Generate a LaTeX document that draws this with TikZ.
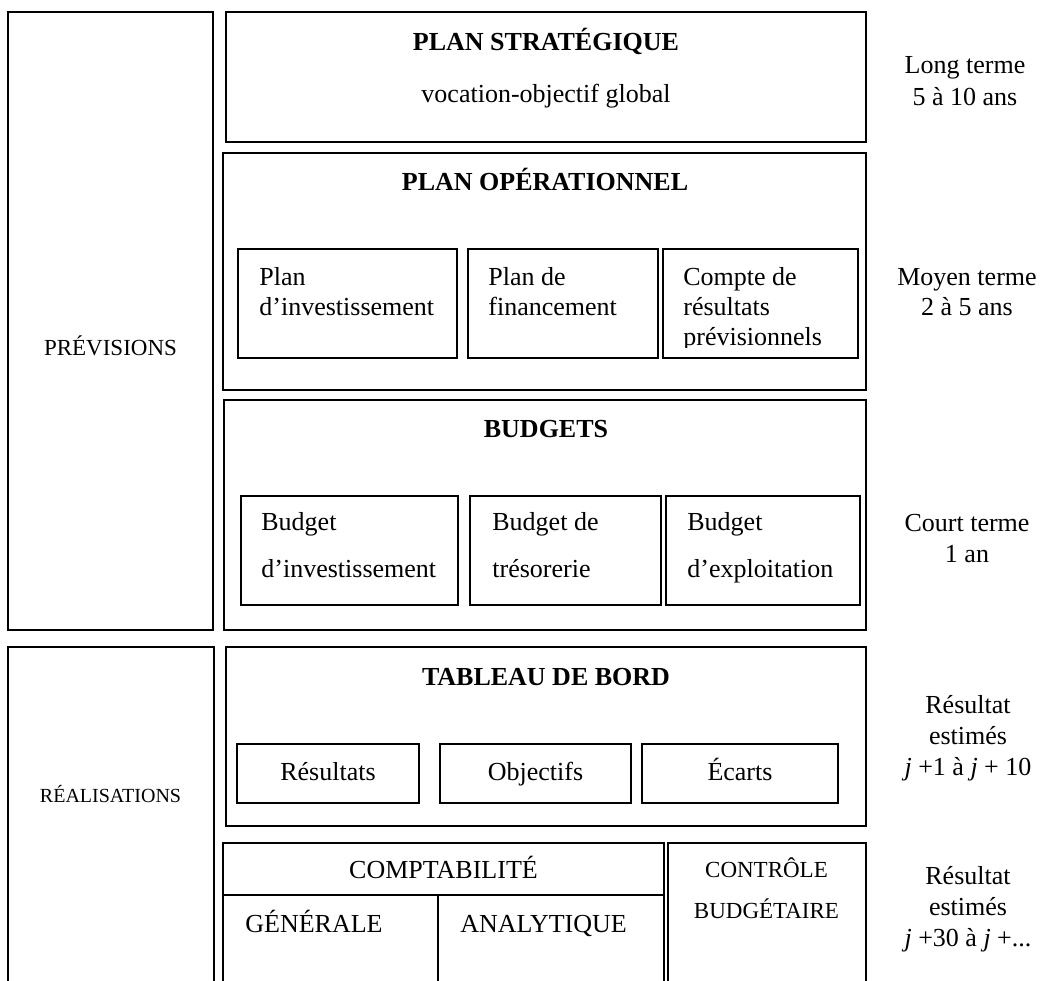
\documentclass[tikz,border=0pt]{standalone}
\usepackage{fontspec}
\setmainfont{Liberation Serif}
\usetikzlibrary{fit}
% stacked lines: first baseline is the node's base
\newcommand\stk[2][l]{\begin{tabular}[t]{@{}#1@{}}#2\end{tabular}}

\begin{document}
\begin{tikzpicture}[x=0.5pt,y=-0.5pt,
  frame/.style={draw, line width=0.9pt, inner sep=0pt, fit={#1}},
  txt/.style={inner sep=0pt, anchor=base, font=\fontsize{13}{15}\selectfont},
  ltxt/.style={txt, anchor=base west},
  title/.style={txt, font=\fontsize{13}{15}\selectfont\bfseries},
  side/.style={txt, font=\fontsize{#1}{15}\selectfont},
  rule/.style={line width=0.9pt}]

\useasboundingbox (0,0) rectangle (1051,981);
\clip (0,0) rectangle (1051,981);

% left column
\node[frame={(8,12) (213,630)}] (prev) {};
\node[side=11.5] (prevl) at (110.5,355) {PRÉVISIONS};
\node[frame={(8,647) (214,995)}] (real) {};
\node[side=10] (reall) at (110.5,802) {RÉALISATIONS};

% strategic plan
\node[frame={(226,12) (866,142)}] (strat) {};
\node[title] (stratt) at (546,50) {PLAN STRATÉGIQUE};
\node[txt] (strats) at (546,102) {vocation-objectif global};

% operational plan
\node[frame={(223,153) (866,390)}] (oper) {};
\node[title] (opert) at (545,190) {PLAN OPÉRATIONNEL};
\node[frame={(238,249) (457,358)}] (po1) {};
\node[frame={(468,249) (658,358)}] (po2) {};
\node[frame={(663,249) (858,358)}] (po3) {};
\node[ltxt, font=\fontsize{13}{15.25}\selectfont] (po1t) at (259,285) {\stk{Plan\\d’investissement}};
\node[ltxt, font=\fontsize{13}{15.25}\selectfont] (po2t) at (488,285) {\stk{Plan de\\financement}};
\begin{scope}
  \clip (663,249) rectangle (858,347);
  \node[ltxt, font=\fontsize{13}{15}\selectfont] (po3t) at (683,285) {\stk{Compte de\\résultats\\prévisionnels}};
\end{scope}

% budgets
\node[frame={(224,400) (866,630)}] (bud) {};
\node[title] (budt) at (546,437) {BUDGETS};
\node[frame={(241,496) (458,605)}] (b1) {};
\node[frame={(470,496) (661,605)}] (b2) {};
\node[frame={(666,496) (860,605)}] (b3) {};
\node[ltxt, font=\fontsize{13}{23.5}\selectfont] (b1t) at (261,530) {\stk{Budget\\d’investissement}};
\node[ltxt, font=\fontsize{13}{23.5}\selectfont] (b2t) at (492,530) {\stk{Budget de\\trésorerie}};
\node[ltxt, font=\fontsize{13}{23.5}\selectfont] (b3t) at (687,530) {\stk{Budget\\d’exploitation}};

% dashboard
\node[frame={(226,647) (866,826)}] (tab) {};
\node[title] (tabt) at (546,685) {TABLEAU DE BORD};
\node[frame={(237,744) (419,803)}] (t1) {};
\node[frame={(440,744) (631,803)}] (t2) {};
\node[frame={(642,744) (838,803)}] (t3) {};
\node[txt] (t1t) at (328,780) {Résultats};
\node[txt] (t2t) at (535.5,780) {Objectifs};
\node[txt] (t3t) at (740,780) {Écarts};

% accounting and budget control
\node[frame={(223,843) (664,995)}] (compta) {};
\coordinate (cdiv) at (223,895);
\coordinate (cmid) at (438,895);
\coordinate (cbot) at (438,995);
\draw[rule] (cdiv) -- (cdiv -| compta.east);
\draw[rule] (cmid) -- (cbot);
\node[txt] (comptat) at (443.5,878) {COMPTABILITÉ};
\node[ltxt] (gen) at (245,932) {GÉNÉRALE};
\node[ltxt] (ana) at (460,932) {ANALYTIQUE};
\node[frame={(668,843) (866,995)}] (ctrl) {};
\node[txt, font=\fontsize{11.5}{20.5}\selectfont] (ctrlt) at (766.5,877) {\stk[c]{CONTRÔLE\\BUDGÉTAIRE}};

% time horizons
\node[txt, font=\fontsize{13}{16}\selectfont] (h1) at (965,73) {\stk[c]{Long terme\\5 à 10 ans}};
\node[txt, font=\fontsize{13}{15}\selectfont] (h2) at (967,285) {\stk[c]{Moyen terme\\2 à 5 ans}};
\node[txt, font=\fontsize{13}{15.5}\selectfont] (h3) at (967,531) {\stk[c]{Court terme\\1 an}};
\node[txt, font=\fontsize{13}{15.5}\selectfont] (h4) at (968,713) {\stk[c]{Résultat\\estimés\\\textit{j} +1 à \textit{j} + 10}};
\node[txt, font=\fontsize{13}{15.5}\selectfont] (h5) at (968,884) {\stk[c]{Résultat\\estimés\\\textit{j} +30 à \textit{j} +...}};
\end{tikzpicture}
\end{document}
